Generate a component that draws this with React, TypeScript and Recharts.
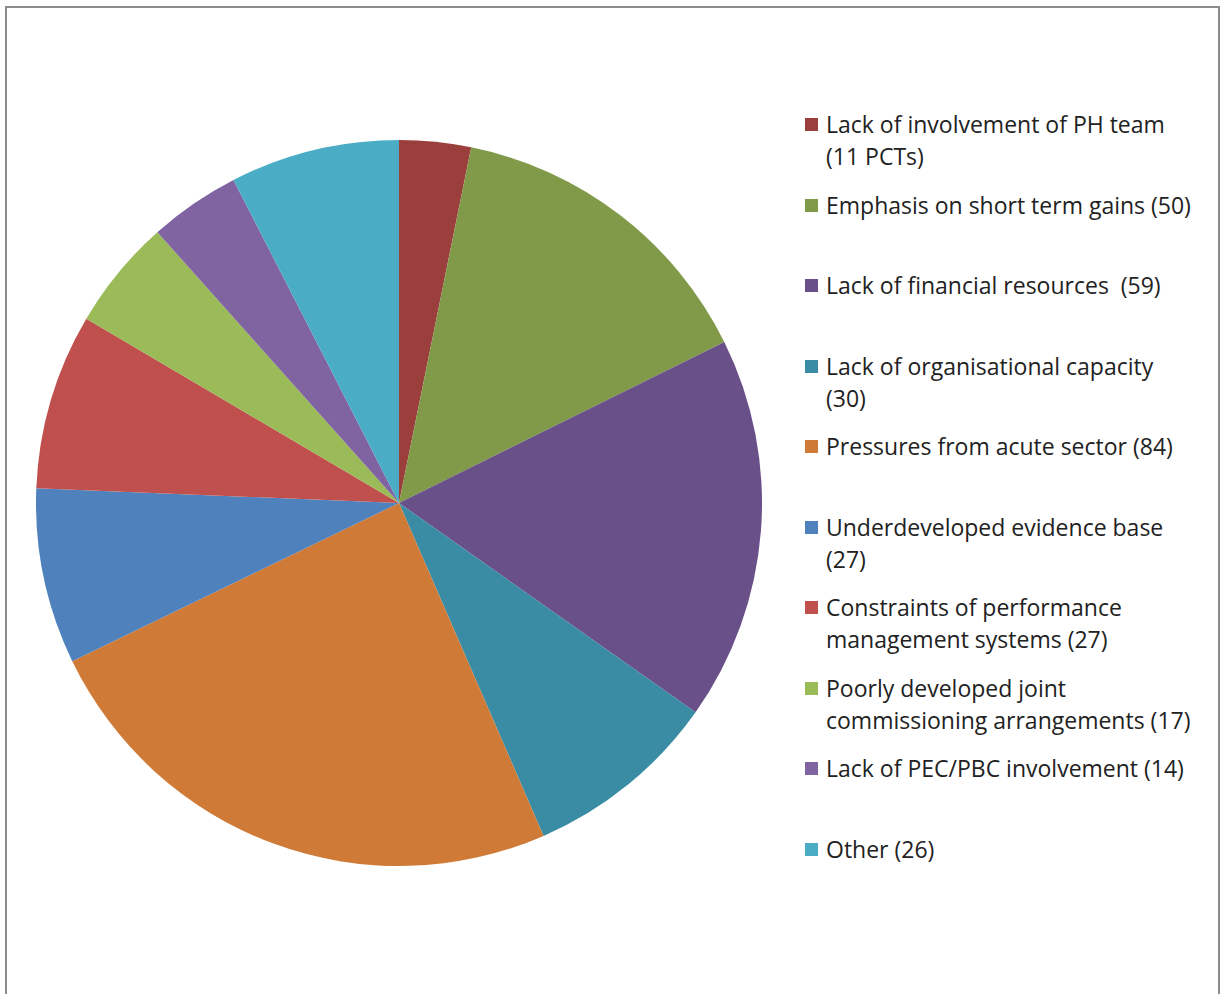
import React from "react";
import { PieChart, Pie, Cell, Legend } from "recharts";

const categories = [
  "Lack of involvement of PH team (11 PCTs)",
  "Emphasis on short term gains (50)",
  "Lack of financial resources  (59)",
  "Lack of organisational capacity (30)",
  "Pressures from acute sector (84)",
  "Underdeveloped evidence base (27)",
  "Constraints of performance management systems (27)",
  "Poorly developed joint commissioning arrangements (17)",
  "Lack of PEC/PBC involvement (14)",
  "Other (26)",
];

const legendLines: string[][] = [
  ["Lack of involvement of PH team", "(11 PCTs)"],
  ["Emphasis on short term gains (50)"],
  ["Lack of financial resources  (59)"],
  ["Lack of organisational capacity", "(30)"],
  ["Pressures from acute sector (84)"],
  ["Underdeveloped evidence base", "(27)"],
  ["Constraints of performance", "management systems (27)"],
  ["Poorly developed joint", "commissioning arrangements (17)"],
  ["Lack of PEC/PBC involvement (14)"],
  ["Other (26)"],
];

const values = [11, 50, 59, 30, 84, 27, 27, 17, 14, 26];

const colors = [
  "#9b3f3d",
  "#809a4a",
  "#6a5088",
  "#3a8ca4",
  "#cf7b37",
  "#4f81bd",
  "#c0504d",
  "#9bbb59",
  "#8064a2",
  "#4bacc6",
];

const data = categories.map((name, i) => ({ name, value: values[i], idx: i }));

const FONT = "'Open Sans', Lato, sans-serif";

const renderLegend = () => {
  return (
    <div style={{ fontFamily: FONT, fontSize: 23, color: "#222222" }}>
      {categories.map((_, i) => (
        <div
          key={i}
          style={{ position: "relative", height: 80.56, paddingLeft: 21 }}
        >
          <div
            style={{
              position: "absolute",
              left: 0,
              top: 10,
              width: 13,
              height: 13,
              background: colors[i],
            }}
          />
          {legendLines[i].map((line, j) => (
            <div
              key={j}
              style={{ height: 32, lineHeight: "32px", whiteSpace: "pre" }}
            >
              {line}
            </div>
          ))}
        </div>
      ))}
    </div>
  );
};

export default function App() {
  return (
    <div
      style={{
        position: "absolute",
        left: 0,
        top: 0,
        width: 1225,
        height: 994,
        overflow: "hidden",
        background: "#ffffff",
      }}
    >
      <div
        style={{
          position: "absolute",
          left: 5,
          top: 6,
          width: 1211,
          height: 1100,
          border: "2px solid #8c8c8c",
          boxSizing: "content-box",
        }}
      />
      <div style={{ position: "absolute", left: 0, top: 0 }}>
        <PieChart
          width={1225}
          height={994}
          margin={{ top: 0, right: 0, bottom: 0, left: 0 }}
        >
          <Pie
            data={data}
            dataKey="value"
            nameKey="name"
            cx={399}
            cy={503}
            outerRadius={363}
            startAngle={90}
            endAngle={-270}
            stroke="none"
            isAnimationActive={false}
            label={false}
            labelLine={false}
          >
            {data.map((d, i) => (
              <Cell key={i} fill={colors[i]} stroke="none" />
            ))}
          </Pie>
          <Legend
            layout="vertical"
            align="right"
            verticalAlign="top"
            content={renderLegend}
            wrapperStyle={{ position: "absolute", left: 805, top: 108, width: 410 }}
          />
        </PieChart>
      </div>
    </div>
  );
}
